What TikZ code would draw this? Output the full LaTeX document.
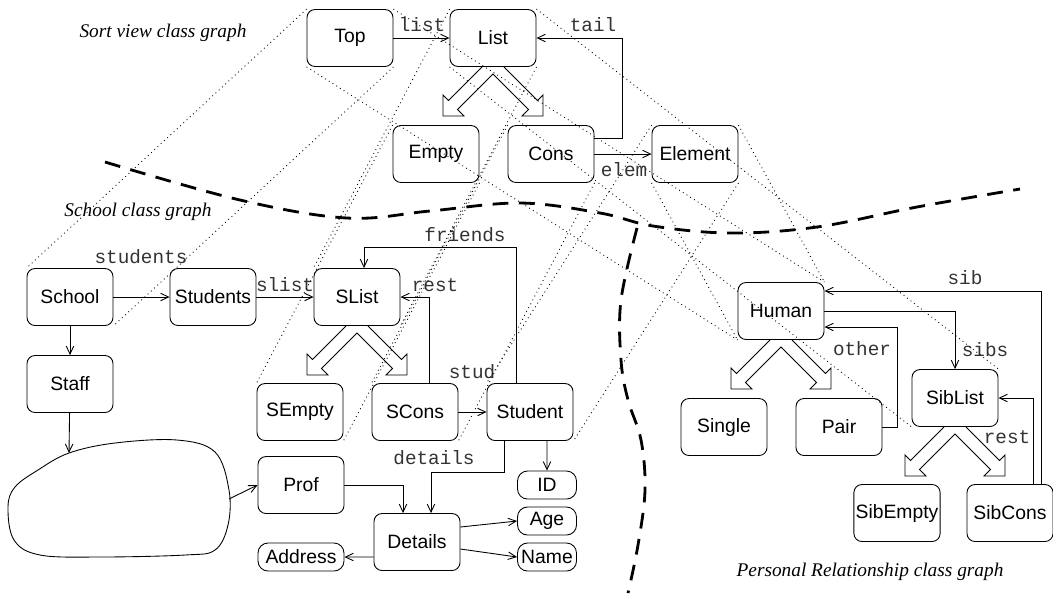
\documentclass[tikz,border=0pt]{standalone}
\usepackage{fontspec}
\usetikzlibrary{arrows.meta}
\newfontfamily\clsfont{Liberation Sans}
\newfontfamily\labfont{Liberation Mono}
\newfontfamily\ttlfont{Liberation Serif}

% hollow inheritance fork below a class box
\newcommand{\inhfork}[1]{%
  \begin{scope}[shift={(#1.south)}]
    \draw[fork] (-11,0) -- (-44.5,33.5) -- (-50,28) -- (-50,49) -- (-29,49) -- (-35.5,42.5)
      -- (0,7) -- (35.5,42.5) -- (29,49) -- (50,49) -- (50,28) -- (44.5,33.5) -- (11,0);
  \end{scope}}

\begin{document}
\begin{tikzpicture}[x=0.02cm, y=-0.02cm,
    cls/.style={draw, rounded corners=0.16cm, minimum width=1.72cm, minimum height=1.14cm,
      inner sep=1pt, line width=0.5pt, font=\clsfont\fontsize{11}{13}\selectfont},
    attr/.style={cls, minimum width=1.18cm, minimum height=0.56cm, rounded corners=0.2cm},
    lab/.style={inner sep=0pt, text=black!80, font=\labfont\fontsize{11}{13}\selectfont},
    ttl/.style={inner sep=0pt, font=\ttlfont\itshape\fontsize{11}{13}\selectfont},
    assoc/.style={line width=0.5pt, -{Straight Barb[length=1.6mm,width=1.5mm]}},
    fork/.style={line width=0.5pt, line join=miter},
    map/.style={dotted, line width=0.5pt},
    border/.style={line width=1.6pt, dash pattern=on 9pt off 6pt}]
  \useasboundingbox (0,0) rectangle (1053,593);

  % sort view
  \node[cls] (Top) at (350,38) {Top};
  \node[cls] (List) at (493,38) {List};
  \node[cls] (Empty) at (436,154) {Empty};
  \node[cls] (Cons) at (551,154) {Cons};
  \node[cls] (Element) at (695,154) {Element};

  % school
  \node[cls] (School) at (70,297) {School};
  \node[cls] (Students) at (213,297) {Students};
  \node[cls] (SList) at (357,297) {SList};
  \node[cls] (Staff) at (70,384) {Staff};
  \node[cls] (SEmpty) at (300,412) {SEmpty};
  \node[cls] (SCons) at (415,412) {SCons};
  \node[cls] (Student) at (530,412) {Student};
  \node[cls] (Prof) at (301,485) {Prof};
  \node[cls] (Details) at (417,542) {Details};
  \node[attr, minimum width=1.72cm] (Address) at (301,557) {Address};
  \node[attr] (ID) at (547,485) {ID};
  \node[attr] (Age) at (547,521) {Age};
  \node[attr] (Name) at (547,557) {Name};

  % personal relationship
  \node[cls] (Human) at (781,311) {Human};
  \node[cls] (Single) at (724,427) {Single};
  \node[cls] (Pair) at (839,427) {Pair};
  \node[cls] (SibList) at (955,398) {SibList};
  \node[cls] (SibEmpty) at (897,513) {SibEmpty};
  \node[cls] (SibCons) at (1010,513) {SibCons};

  % titles
  \node[ttl] (sortTtl) at (163,33) {Sort view class graph};
  \node[ttl] (schoolTtl) at (138,212) {School class graph};
  \node[ttl] (persTtl) at (870,572) {Personal Relationship class graph};

  % staff blob
  \draw[line width=0.5pt] plot[smooth cycle, tension=0.6] coordinates {(69,453) (115,443) (177,440)
    (215,452) (229,490) (228,525) (215,550) (185,555) (100,557) (40,555) (14,540) (8,507)
    (15,487) (38,470)};
  \coordinate (blobTop) at (69,453);
  \coordinate (blobRight) at (229,499);

  % inheritance
  \inhfork{List}
  \inhfork{SList}
  \inhfork{Human}
  \inhfork{SibList}

  % sort view edges
  \draw[assoc] (Top) -- (List);
  \draw[assoc] ([yshift=0.32cm]Cons.east) -- ++(28,0) |- (List.east);
  \draw[assoc] (Cons) -- (Element);
  \node[lab] (listLab) at (422,25) {list};
  \node[lab] (tailLab) at (593,25) {tail};
  \node[lab] (elemLab) at (624,170) {elem};

  % school edges
  \draw[assoc] (School) -- (Students);
  \draw[assoc] (Students) -- (SList);
  \draw[assoc] (School) -- (Staff);
  \draw[assoc] (SCons) -- (Student);
  \draw[assoc] ([xshift=0.28cm]SCons.north) |- (SList.east);
  \draw[assoc] ([xshift=-0.28cm]Student.north) -- ++(0,-136) -| ([xshift=0.14cm]SList.north);
  \draw[assoc] ([xshift=0.34cm]Student.south) -- (ID);
  \draw[assoc] ([xshift=-0.52cm]Student.south) -- ++(0,31) -| ([xshift=0.28cm]Details.north);
  \draw[assoc] (Prof.east) -| ([xshift=-0.28cm]Details.north);
  \draw[assoc] ([yshift=0.3cm]Details.east) -- (Age.west);
  \draw[assoc] ([yshift=-0.14cm]Details.east) -- (Name.west);
  \draw[assoc] ([yshift=-0.3cm]Details.west) -- (Address.east);
  \draw[assoc] (Staff) -- (blobTop);
  \draw[assoc] (blobRight) -- (Prof.west);
  \node[lab] (studentsLab) at (141,257) {students};
  \node[lab] (slistLab) at (285,285) {slist};
  \node[lab] (restLab) at (435,285) {rest};
  \node[lab] (friendsLab) at (465,235) {friends};
  \node[lab] (studLab) at (472,372) {stud};
  \node[lab] (detailsLab) at (434,458) {details};

  % personal relationship edges
  \draw[assoc] (Human.east) -| (SibList.north);
  \draw[assoc] (Pair.east) -- ++(15,0) |- ([yshift=-0.32cm]Human.east);
  \draw[assoc] ([xshift=0.46cm]SibCons.north) |- (SibList.east);
  \draw[assoc] ([xshift=0.62cm]SibCons.north) |- ([yshift=0.4cm]Human.east);
  \node[lab] (sibLab) at (965,278) {sib};
  \node[lab] (otherLab) at (862,349) {other};
  \node[lab] (sibsLab) at (985,350) {sibs};
  \node[lab] (sibRestLab) at (1007,437) {rest};

  % view mappings
  \foreach \from/\to in {Top/School, List/SList, Empty/SEmpty, Cons/SCons, Element/Student}{
    \draw[map] (\from.north west) -- (\to.north west);
    \draw[map] (\from.south east) -- (\to.south east);
  }
  \foreach \from/\to in {Top/Human, List/SibList, Element/Human}{
    \draw[map] (\from.north east) -- (\to.north east);
    \draw[map] (\from.south west) -- (\to.south west);
  }

  % graph borders
  \draw[border] plot[smooth, tension=0.6] coordinates {(105,162) (240,200) (347,218) (430,211)
    (520,203) (600,213) (653,226) (730,233) (817,227) (917,207) (1020,189)};
  \draw[border] plot[smooth, tension=0.6] coordinates {(637,228) (621,300) (621,360) (628,400)
    (641,440) (645,490) (638,545) (628,593)};
\end{tikzpicture}
\end{document}
